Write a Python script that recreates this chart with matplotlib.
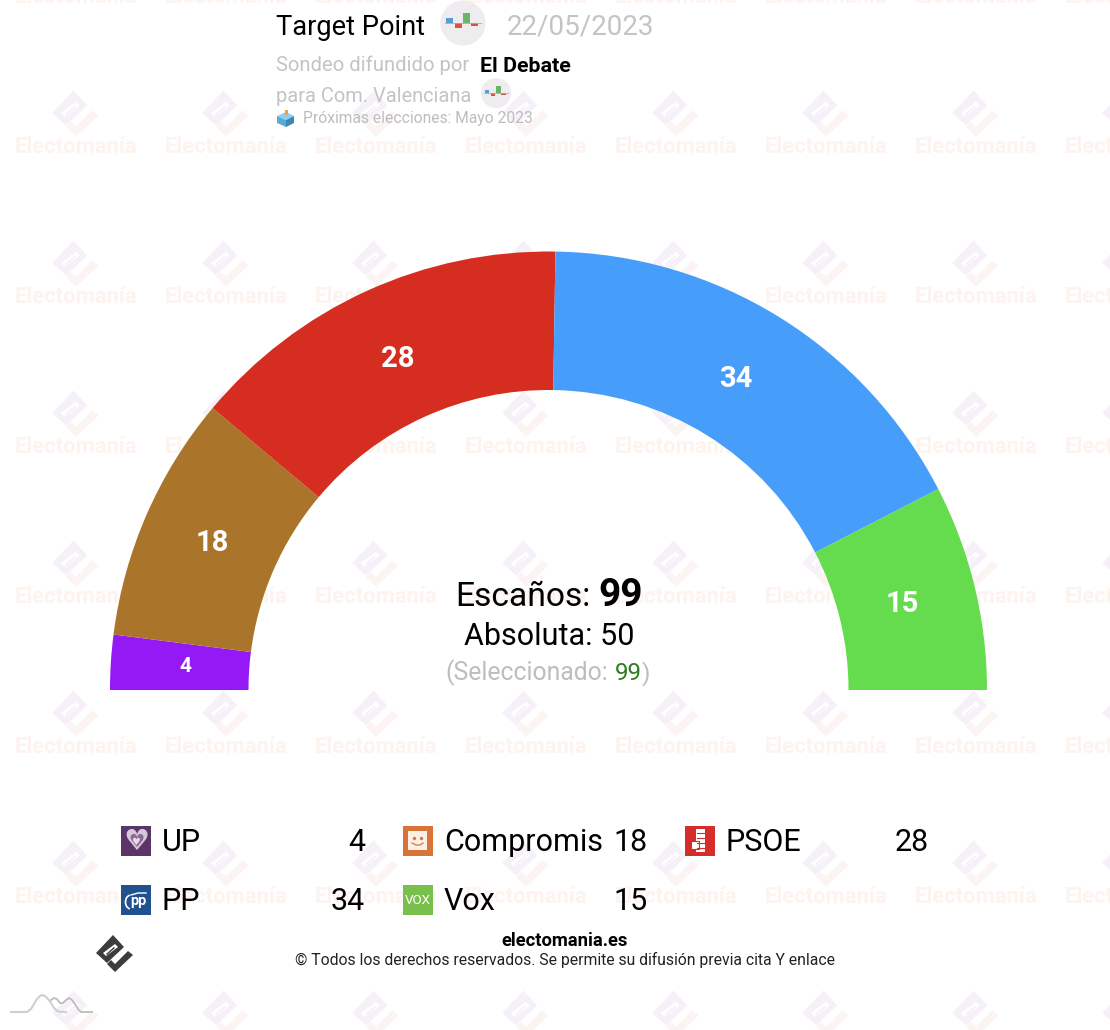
import matplotlib
matplotlib.use("Agg")
import matplotlib.pyplot as plt
from matplotlib.patches import Polygon, Rectangle, Circle, Arc
from math import cos, sin, radians

W, H = 1110, 1030

partidos = ["UP", "Compromis", "PSOE", "PP", "Vox"]
escanos = [4, 18, 28, 34, 15]
colores = ["#9419F5", "#AA752A", "#D52D1F", "#469EFA", "#65DC4D"]
iconos = ["#5B3468", "#D8743A", "#D52D2A", "#21528F", "#78C04B"]
total = 99
absoluta = 50
seleccionado = 99

plt.rcParams["font.family"] = ["Roboto", "DejaVu Sans"]
fig = plt.figure(figsize=(W / 100, H / 100), dpi=100)


def capa(z):
    a = fig.add_axes([0, 0, 1, 1], zorder=z)
    a.set_xlim(0, W)
    a.set_ylim(H, 0)
    a.axis("off")
    a.patch.set_alpha(0)
    return a


bg = capa(0)
fg = capa(2)

# logo rombo + L, coordenadas relativas al centro
ROMBO = [(-2, -18), (9, -6), (-8, 10), (-19, 0)]
RANURA = [(0, -9), (3, -6), (-9, 3), (-12, 0)]
BARRA = [(-1, -6), (0, -5), (-8, 2), (-9, 1)]
ELE = [(13, -2), (18, 2), (0, 19), (-8, 11), (-4, 7), (0, 11)]


def logo(a, cx, cy, s, c1, c3):
    a.add_patch(Polygon([(cx + x * s, cy + y * s) for x, y in ROMBO], fc=c1, lw=0))
    a.add_patch(Polygon([(cx + x * s, cy + y * s) for x, y in RANURA], fc="white", lw=0))
    a.add_patch(Polygon([(cx + x * s, cy + y * s) for x, y in BARRA], fc=c1, lw=0))
    a.add_patch(Polygon([(cx + x * s, cy + y * s) for x, y in ELE], fc=c3, lw=0))


# marca de agua
for i in range(8):
    for j in range(-1, 7):
        x = 76 + 150 * i
        y = 113 + 150 * j
        logo(bg, x, y, 1.25, "#F6F1F8", "#FBF4F2")
        if y + 33 < H:
            bg.text(x, y + 34, "Electomanía", color="#FDF3EF", fontsize=15.8, fontweight="bold",
                    ha="center", va="center")

# hemiciclo
pie_ax = fig.add_axes([(548.5 - 438.5) / W, (H - 690 - 438.5) / H, 877 / W, 877 / H], zorder=1)
pie_ax.patch.set_alpha(0)
wedges, _ = pie_ax.pie(escanos + [total], colors=colores + ["none"], startangle=180, counterclock=False,
                       radius=1, wedgeprops={"width": 138.5 / 438.5, "linewidth": 0})
pie_ax.set_xlim(-1, 1)
pie_ax.set_ylim(-1, 1)
pie_ax.axis("off")
wedges[-1].set_visible(False)

# ajuste fino de las etiquetas, en puntos
ajustes = [(2, 0), (0, 0), (1, -2), (-4, 0), (-2, 0)]
for w, n, aj in zip(wedges[:-1], escanos, ajustes):
    ang = radians((w.theta1 + w.theta2) / 2)
    pie_ax.annotate(str(n), (0.836 * cos(ang), 0.836 * sin(ang)), xytext=aj, textcoords="offset points",
                    color="white", fontweight="bold", fontsize=15 if n < 10 else 21,
                    ha="center", va="center")


def t(x, y, s, size, color="black", weight="normal", ha="left"):
    return fg.text(x, y, s, fontsize=size, color=color, fontweight=weight, ha=ha, va="baseline")


def icono_tp(cx, cy, r):
    s = r / 22.5
    fg.add_patch(Circle((cx, cy), r, fc="#EEECEE", lw=0))
    fg.plot([cx - 18 * s, cx + 18 * s], [cy, cy], color="#AAAAAA", lw=0.6)
    for dx, alto, col in [(-17, -5, "#5B9BD5"), (-8, 5, "#D9533F"), (0, -10, "#6FB36B"), (8, 3, "#D9533F")]:
        fg.add_patch(Rectangle((cx + dx * s, cy), 7 * s, alto * s, fc=col, lw=0))


# cabecera
t(276, 35, "Target Point", 19.6)
icono_tp(463, 23, 22.5)
t(507, 35, "22/05/2023", 20, "#C4C4C4")
t(276, 71, "Sondeo difundido por", 14.55, "#C4C4C4")
t(480, 72, "El Debate", 15.4, "black", "bold")
t(276, 102, "para Com. Valenciana", 14.4, "#C4C4C4")
icono_tp(496, 93, 15)
t(303, 123, "Próximas elecciones: Mayo 2023", 11.25, "#BDBDBD")
fg.add_patch(Polygon([(277, 116), (286, 112), (294, 116), (286, 120)], fc="#8CD0EE", lw=0))
fg.add_patch(Polygon([(277, 116), (286, 120), (286, 127), (277, 123)], fc="#5AA9D6", lw=0))
fg.add_patch(Polygon([(294, 116), (286, 120), (286, 127), (294, 123)], fc="#3D86B5", lw=0))
fg.add_patch(Rectangle((284.5, 110), 3, 5, fc="#F0A33A", lw=0))

# centro
t(455, 606, "Escaños:", 24.2)
t(598, 606, str(total), 28, "black", "bold")
t(464, 645, "Absoluta: " + str(absoluta), 22)
t(445, 680, "(Seleccionado:", 17.8, "#BDBDBD")
t(615, 680, str(seleccionado), 17.4, "#2F7D1F")
t(642, 680, ")", 17.4, "#BDBDBD")

# leyenda
cols_x = [121, 403, 685]
cols_fin = [365, 648, 929]
filas_y = [826, 885]
for i, (p, n, c) in enumerate(zip(partidos, escanos, iconos)):
    col = i % 3
    fila = i // 3
    x0 = cols_x[col]
    y0 = filas_y[fila]
    fg.add_patch(Rectangle((x0, y0), 30, 30, fc=c, lw=0))
    cx, cy = x0 + 15, y0 + 15
    if p == "UP":
        fg.text(cx, cy + 1, "♥", color="#D8C6DC", fontsize=21, ha="center", va="center", family="DejaVu Sans")
        fg.text(cx, cy + 1, "♥", color="#8A6A94", fontsize=13, ha="center", va="center", family="DejaVu Sans")
        fg.text(cx, cy + 1, "♥", color="#E6DAE8", fontsize=7, ha="center", va="center", family="DejaVu Sans")
    elif p == "Compromis":
        fg.add_patch(Rectangle((x0 + 5, y0 + 5), 19, 19, fc="#FBEFE6", lw=0))
        fg.plot([cx - 4, cx + 3], [cy - 3, cy - 3], ls="none", marker="o", ms=1.4, color=c)
        fg.plot([cx - 6, cx - 2, cx + 2, cx + 5], [cy + 2, cy + 4, cy + 4, cy + 2], color=c, lw=0.9)
    elif p == "PSOE":
        fg.add_patch(Rectangle((cx - 4, cy - 12), 9, 23, fc="white", lw=0))
        fg.add_patch(Rectangle((cx - 9, cy + 0), 8, 8, fc="white", ec=c, lw=0.8))
        for k in range(4):
            fg.plot([cx - 3, cx + 4], [cy - 8 + 5 * k] * 2, color=c, lw=0.8)
    elif p == "PP":
        fg.text(cx + 2, cy + 1, "pp", color="white", fontsize=10.5, fontweight="bold", ha="center", va="center")
        fg.add_patch(Arc((cx - 5, cy + 2), 11, 14, theta1=100, theta2=260, ec="white", lw=1.2))
        fg.plot([cx - 5, cx + 2, cx + 10], [cy - 5, cy - 7, cy - 7], color="white", lw=1)
    else:
        fg.text(cx, cy, "VOX", color="white", fontsize=9.6, ha="center", va="center")
    t(x0 + 41, y0 + 25, p, 22)
    t(cols_fin[col], y0 + 25, str(n), 22, ha="right")

# pie
t(565, 946, "electomania.es", 13.2, "black", "bold", ha="center")
t(565, 965, "© Todos los derechos reservados. Se permite su difusión previa cita Y enlace", 11.35, "#222222", ha="center")
logo(fg, 115, 953, 1, "#3C3C3C", "#3C3C3C")

# montañitas abajo a la izquierda
fg.plot([11, 27, 31, 34, 37, 40, 42, 45, 48, 51, 54, 57, 61, 66],
        [1012, 1012, 1009, 1004, 999, 996, 995, 996, 999, 1003, 1008, 1011, 1012, 1012],
        color="#CFCFCF", lw=1.5)
fg.plot([51, 54, 57, 60, 63, 66, 69, 72, 75, 78, 81, 92],
        [1000, 998, 999, 1003, 1003, 1000, 998, 1000, 1004, 1009, 1012, 1012],
        color="#BDBDBD", lw=1.3)

fig.savefig("out.png", dpi=100, facecolor="white")
